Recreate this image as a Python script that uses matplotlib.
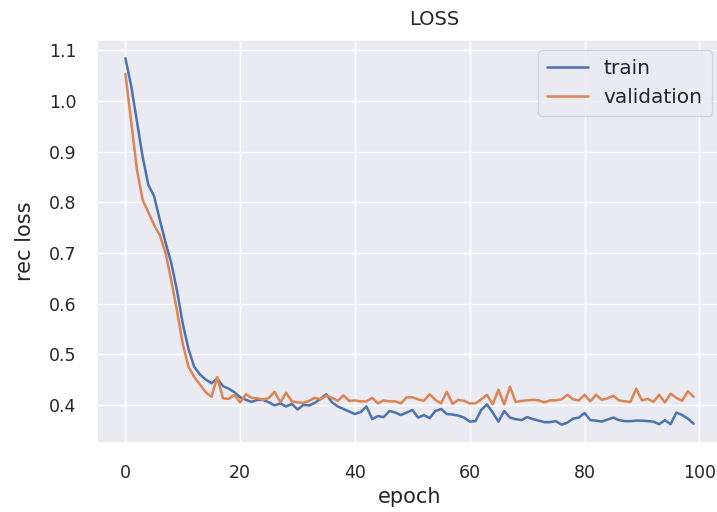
import numpy as np
import matplotlib
matplotlib.use("Agg")
import matplotlib.pyplot as plt
import seaborn as sns

sns.set_theme(style="darkgrid")

# loss per epoch
epochs = np.arange(100)
train = [
    1.084, 1.03, 0.96, 0.89, 0.834, 0.812, 0.765, 0.72, 0.68, 0.625,
    0.56, 0.51, 0.475, 0.46, 0.45, 0.443, 0.452, 0.437, 0.432, 0.425,
    0.415, 0.41, 0.406, 0.41, 0.41, 0.405, 0.399, 0.403, 0.397, 0.402,
    0.391, 0.40, 0.399, 0.404, 0.412, 0.421, 0.405, 0.397, 0.392, 0.387,
    0.382, 0.386, 0.397, 0.372, 0.378, 0.376, 0.388, 0.385, 0.38, 0.385,
    0.39, 0.375, 0.38, 0.374, 0.388, 0.392, 0.382, 0.381, 0.379, 0.375,
    0.367, 0.368, 0.39, 0.401, 0.385, 0.367, 0.388, 0.375, 0.372, 0.37,
    0.376, 0.372, 0.369, 0.366, 0.366, 0.368, 0.361, 0.365, 0.373, 0.375,
    0.384, 0.37, 0.369, 0.367, 0.371, 0.375, 0.37, 0.368, 0.368, 0.369,
    0.369, 0.368, 0.367, 0.362, 0.37, 0.362, 0.385, 0.38, 0.373, 0.363,
]
validation = [
    1.053, 0.96, 0.865, 0.805, 0.78, 0.755, 0.735, 0.70, 0.645, 0.585,
    0.52, 0.475, 0.455, 0.44, 0.425, 0.416, 0.455, 0.413, 0.412, 0.42,
    0.405, 0.421, 0.414, 0.413, 0.41, 0.414, 0.426, 0.405, 0.424, 0.407,
    0.405, 0.404, 0.408, 0.414, 0.411, 0.418, 0.414, 0.408, 0.419, 0.408,
    0.409, 0.407, 0.407, 0.414, 0.403, 0.409, 0.407, 0.407, 0.403, 0.415,
    0.415, 0.411, 0.408, 0.421, 0.41, 0.403, 0.426, 0.402, 0.41, 0.408,
    0.403, 0.403, 0.411, 0.42, 0.401, 0.43, 0.401, 0.436, 0.406, 0.408,
    0.409, 0.41, 0.409, 0.405, 0.409, 0.409, 0.411, 0.42, 0.411, 0.409,
    0.42, 0.407, 0.42, 0.41, 0.413, 0.418, 0.409, 0.407, 0.406, 0.432,
    0.409, 0.412, 0.406, 0.42, 0.405, 0.422, 0.414, 0.408, 0.427, 0.416,
]

fig = plt.figure(figsize=(7.17, 5.12), dpi=100)
# axes run a little past the right edge, as in the reference
ax = fig.add_axes([97 / 717, 69 / 512, 625 / 717, 403 / 512])

ax.plot(epochs, train, label="train", color="#4C72B0", lw=1.8)
ax.plot(epochs, validation, label="validation", color="#DD8452", lw=1.8)

# title sits right of the axes centre in the reference
ax.set_title("LOSS", fontsize=14, x=0.54, pad=11)
ax.set_xlabel("epoch", fontsize=15)
ax.set_ylabel("rec loss", fontsize=15, labelpad=10)
ax.tick_params(labelsize=12.5, pad=9)
ax.legend(fontsize=14.5, borderpad=0.45)

fig.savefig("out.png", dpi=100)
